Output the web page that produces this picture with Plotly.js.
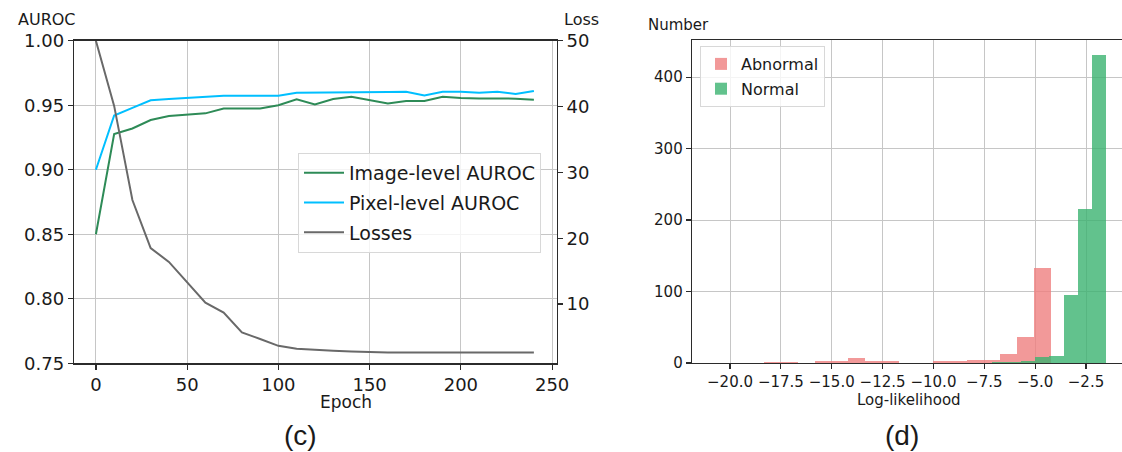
<!DOCTYPE html>
<html>
<head>
<meta charset="utf-8">
<script src="https://cdn.plot.ly/plotly-3.0.1.min.js"></script>
<style>html,body{margin:0;padding:0;background:#fff;}#chart{width:1122px;height:452px;}</style>
</head>
<body>
<div id="chart"></div>
<script>
// ---- Panel (c): training curves ----
const epochs = [0,10,20,30,40,50,60,70,80,90,100,110,120,130,140,150,160,170,180,190,200,210,220,230,240];
const imageAUROC = [0.850,0.9276,0.932,0.9385,0.9416,0.9424,0.9437,0.9475,0.9475,0.9475,0.950,0.9545,0.9505,0.9548,0.9566,0.9538,0.9514,0.9532,0.9532,0.9566,0.9555,0.9553,0.9553,0.9551,0.9543];
const pixelAUROC = [0.900,0.942,0.948,0.9538,0.9548,0.9555,0.9563,0.9574,0.9574,0.9574,0.9574,0.9597,0.9597,0.9597,0.9597,0.9597,0.9602,0.9605,0.9576,0.9605,0.9605,0.9597,0.9605,0.9587,0.961];
const losses = [50,40.1,25.8,18.5,16.4,13.3,10.2,8.7,5.7,4.7,3.65,3.2,3.0,2.9,2.8,2.7,2.65,2.65,2.65,2.65,2.65,2.65,2.65,2.65,2.65];
const epochTicks = [0,50,100,150,200,250];
const aurocTicks = [0.75,0.80,0.85,0.90,0.95,1.00];
const lossTicks = [10,20,30,40,50];

// ---- Panel (d): log-likelihood histograms ----
const abnormalStart = -18.33;
const abnormalBinWidth = 0.83;
const abnormalCounts = [2,2,0,3,3,7,3,3,0,0,3,3,4,4,12,37,133];
const normalStart = -7.1;
const normalBinWidth = 0.7;
const normalCounts = [2,1,3,8,10,95,215,431];
const llTicks = [-20,-17.5,-15,-12.5,-10,-7.5,-5,-2.5];
const countTicks = [0,100,200,300,400];

const centers = (start, w, arr) => arr.map((_, i) => start + (i + 0.5) * w);

const W = 1122, H = 452;
const px = v => v / W;
const py = v => (H - v) / H;

const FONT = 'DejaVu Sans, sans-serif';
const GRID = '#c6c6c6';
const SPINE = '#2b2b2b';

const traces = [
  {x: epochs, y: imageAUROC, type: 'scatter', mode: 'lines', name: 'Image-level AUROC',
   line: {color: '#2e8b57', width: 2}, xaxis: 'x', yaxis: 'y', legend: 'legend', legendgroup: 'a'},
  {x: epochs, y: pixelAUROC, type: 'scatter', mode: 'lines', name: 'Pixel-level AUROC',
   line: {color: '#00bfff', width: 2}, xaxis: 'x', yaxis: 'y', legend: 'legend', legendgroup: 'b'},
  {x: epochs, y: losses, type: 'scatter', mode: 'lines', name: 'Losses',
   line: {color: '#696969', width: 2}, xaxis: 'x', yaxis: 'y2', legend: 'legend', legendgroup: 'c'},
  {x: centers(abnormalStart, abnormalBinWidth, abnormalCounts), y: abnormalCounts, type: 'bar',
   width: abnormalBinWidth, name: 'Abnormal', marker: {color: '#f08080', line: {width: 0}}, opacity: 0.8,
   xaxis: 'x2', yaxis: 'y3', legend: 'legend2', legendgroup: 'd'},
  {x: centers(normalStart, normalBinWidth, normalCounts), y: normalCounts, type: 'bar',
   width: normalBinWidth, name: 'Normal', marker: {color: '#3cb371', line: {width: 0}}, opacity: 0.8,
   xaxis: 'x2', yaxis: 'y3', legend: 'legend2', legendgroup: 'e'}
];

const axCommon = {
  showgrid: true, gridcolor: GRID, gridwidth: 1, zeroline: false,
  showline: true, linecolor: SPINE, linewidth: 1.3,
  ticks: 'outside', ticklen: 5, tickcolor: SPINE, tickwidth: 1.2,
  fixedrange: true
};

const layout = {
  width: W, height: H,
  margin: {l: 0, r: 0, t: 0, b: 0},
  paper_bgcolor: '#fff', plot_bgcolor: '#fff',
  font: {family: FONT, color: '#1a1a1a'},
  barmode: 'overlay', bargap: 0,
  xaxis: Object.assign({}, axCommon, {
    domain: [px(74), px(556.7)], range: [-12, 252.5], anchor: 'y',
    tickvals: epochTicks, tickfont: {size: 18, family: FONT}, mirror: true
  }),
  yaxis: Object.assign({}, axCommon, {
    domain: [py(363.3), py(40.7)], range: [0.75, 1.0], anchor: 'x',
    tickvals: aurocTicks, tickformat: '.2f', tickfont: {size: 18, family: FONT}
  }),
  yaxis2: Object.assign({}, axCommon, {
    overlaying: 'y', side: 'right', anchor: 'x', range: [1, 50],
    tickvals: lossTicks, showgrid: false, tickfont: {size: 18, family: FONT}
  }),
  xaxis2: Object.assign({}, axCommon, {
    domain: [px(692), 1.0], range: [-21.87, -0.73], anchor: 'y3',
    tickvals: llTicks, tickformat: '.1f', tickfont: {size: 15, family: FONT}, mirror: true
  }),
  yaxis3: Object.assign({}, axCommon, {
    domain: [py(363), py(40)], range: [0, 452], anchor: 'x2',
    tickvals: countTicks, tickfont: {size: 15, family: FONT}
  }),
  legend: {
    x: px(298), y: py(153), xanchor: 'left', yanchor: 'top',
    bgcolor: 'rgba(255,255,255,0.8)', bordercolor: '#d8d8d8', borderwidth: 1,
    font: {size: 19, family: FONT}, tracegroupgap: 2, itemwidth: 40
  },
  legend2: {
    x: px(700), y: py(46), xanchor: 'left', yanchor: 'top',
    bgcolor: 'rgba(255,255,255,0.8)', bordercolor: '#d8d8d8', borderwidth: 1,
    font: {size: 16, family: FONT}, tracegroupgap: 1
  },
  showlegend: true,
  annotations: [
    {text: 'AUROC', x: px(47), y: py(20), xref: 'paper', yref: 'paper', showarrow: false, xanchor: 'center', yanchor: 'middle', font: {size: 16, family: FONT}},
    {text: 'Loss', x: px(581), y: py(20), xref: 'paper', yref: 'paper', showarrow: false, xanchor: 'center', yanchor: 'middle', font: {size: 16, family: FONT}},
    {text: 'Epoch', x: px(346), y: py(402), xref: 'paper', yref: 'paper', showarrow: false, xanchor: 'center', yanchor: 'middle', font: {size: 17, family: FONT}},
    {text: '(c)', x: px(300), y: py(435), xref: 'paper', yref: 'paper', showarrow: false, xanchor: 'center', yanchor: 'middle', font: {size: 28, family: 'Liberation Sans, Arial, sans-serif'}},
    {text: 'Number', x: px(678), y: py(25), xref: 'paper', yref: 'paper', showarrow: false, xanchor: 'center', yanchor: 'middle', font: {size: 15, family: FONT}},
    {text: 'Log-likelihood', x: px(909), y: py(400), xref: 'paper', yref: 'paper', showarrow: false, xanchor: 'center', yanchor: 'middle', font: {size: 15, family: FONT}},
    {text: '(d)', x: px(902), y: py(435), xref: 'paper', yref: 'paper', showarrow: false, xanchor: 'center', yanchor: 'middle', font: {size: 28, family: 'Liberation Sans, Arial, sans-serif'}}
  ]
};

Plotly.newPlot('chart', traces, layout, {displayModeBar: false, staticPlot: true});
</script>
</body>
</html>
